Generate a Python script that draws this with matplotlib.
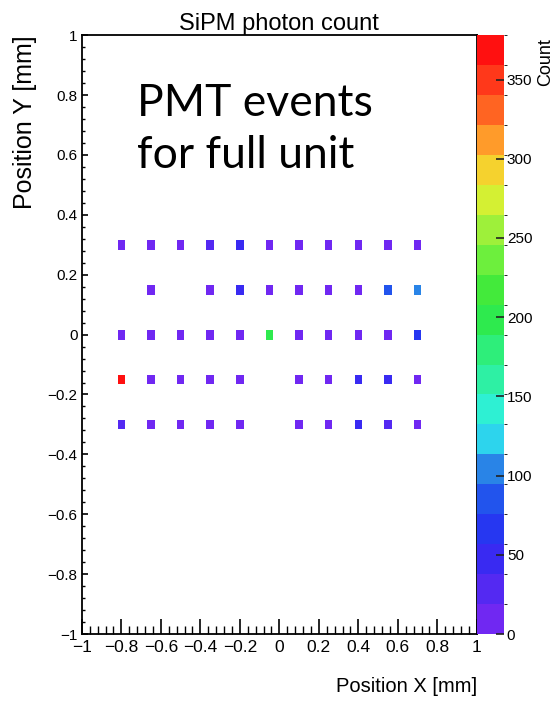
import numpy as np
import matplotlib
matplotlib.use("Agg")
import matplotlib.pyplot as plt
from matplotlib.colors import LinearSegmentedColormap, BoundaryNorm
from matplotlib.ticker import MultipleLocator, FixedLocator, FuncFormatter

# SiPM grid positions (mm)
x_pos = [-0.8, -0.65, -0.5, -0.35, -0.2, -0.05, 0.1, 0.25, 0.4, 0.55, 0.7]
y_pos = [0.3, 0.15, 0.0, -0.15, -0.3]

# photon counts per row (top to bottom), None = empty cell
counts = [
    [12, 14, 15, 28, 48, 14, 13, 14, 14, 14, 14],
    [None, 14, None, 16, 40, 14, 14, 14, 14, 85, 105],
    [14, 14, 14, 14, 15, 200, 14, 14, 14, 14, 70],
    [370, 14, 14, 14, 14, None, 14, 14, 50, 42, 14],
    [35, 14, 14, 14, 14, None, 14, 14, 50, 36, 14],
]

z_max = 378
n_levels = 20
cbar_ticks = [0, 50, 100, 150, 200, 250, 300, 350]

# ROOT-like rainbow palette
palette = LinearSegmentedColormap.from_list("root", [
    (0.00, "#7028f2"), (0.10, "#3a2af2"), (0.18, "#1e3cf0"),
    (0.27, "#2a8ae6"), (0.33, "#2ef0f0"), (0.45, "#2ef08a"),
    (0.55, "#2ee83a"), (0.65, "#7cf03e"), (0.76, "#f0f030"),
    (0.84, "#ff9a2a"), (0.92, "#ff4a1e"), (1.00, "#ff1010")])
levels = np.linspace(0, z_max, n_levels + 1)
norm = BoundaryNorm(levels, 256)

xs, ys, zs = [], [], []
for row, yv in zip(counts, y_pos):
    for xv, c in zip(x_pos, row):
        if c is not None:
            xs.append(xv); ys.append(yv); zs.append(c)


def tick_fmt(v, pos):
    v = round(v, 2)
    if v == 0:
        return "0"
    return f"{v:g}".replace("-", "\u2212")


fig = plt.figure(figsize=(5.57, 7.04), dpi=100)
ax = fig.add_axes([0.147, 0.0994, 0.709, 0.8506])
cax = fig.add_axes([0.856, 0.0994, 0.049, 0.8506])

rect = [(-0.38, -0.5), (0.38, -0.5), (0.38, 0.5), (-0.38, 0.5)]
sc = ax.scatter(xs, ys, c=zs, cmap=palette, norm=norm, marker=rect, s=50,
                linewidths=0)

ax.set_xlim(-1, 1)
ax.set_ylim(-1, 1)
ax.xaxis.set_major_locator(MultipleLocator(0.2))
ax.xaxis.set_minor_locator(MultipleLocator(0.04))
ax.yaxis.set_major_locator(MultipleLocator(0.2))
ax.yaxis.set_minor_locator(MultipleLocator(0.04))
ax.xaxis.set_major_formatter(FuncFormatter(tick_fmt))
ax.yaxis.set_major_formatter(FuncFormatter(tick_fmt))
ax.tick_params(axis="x", which="major", direction="in", length=11, width=1.2,
               labelsize=12.5, pad=4)
ax.tick_params(axis="x", which="minor", direction="in", length=5.5, width=1.0)
ax.tick_params(axis="y", which="major", direction="in", length=4, width=1.2,
               labelsize=11, pad=3)
ax.tick_params(axis="y", which="minor", direction="in", length=2.5, width=1.0)
for s in ax.spines.values():
    s.set_linewidth(1.3)

ax.set_title("SiPM photon count", fontsize=17, pad=1)
ax.set_xlabel("Position X [mm]", fontsize=14.5, loc="right", labelpad=16)
ax.set_ylabel("Position Y [mm]", fontsize=18, loc="top", labelpad=8)

ax.text(0.14, 0.92, "PMT events\nfor full unit", transform=ax.transAxes,
        fontsize=32, family="Lato", va="top", ha="left", linespacing=1.32)

cb = fig.colorbar(sc, cax=cax, boundaries=levels)
cb.outline.set_visible(False)
cb.set_ticks(FixedLocator(cbar_ticks))
cax.tick_params(direction="in", length=6, width=1.2, labelsize=11, pad=2,
                color="#222222")
fig.text(0.995, 0.946, "Count", rotation=90, fontsize=13, ha="right", va="top")

for t in fig.findobj(matplotlib.text.Text):
    if t.get_fontfamily() != ["Lato"]:
        t.set_fontfamily("Liberation Sans")

fig.savefig("out.png", dpi=100)
